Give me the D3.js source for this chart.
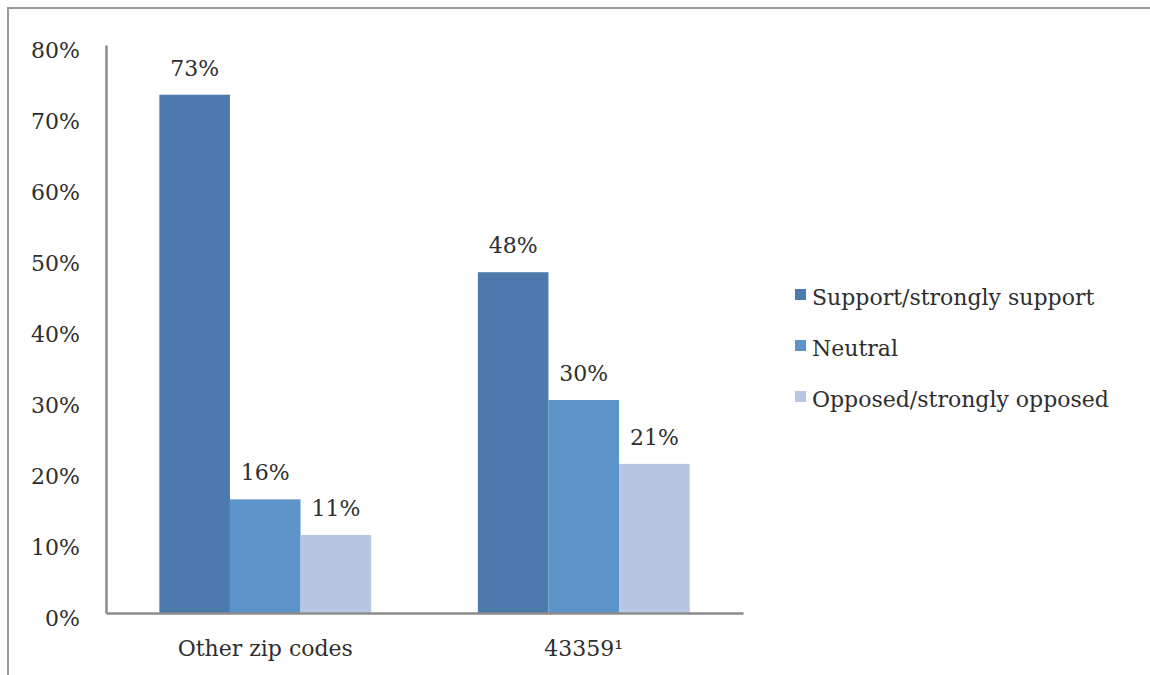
<!DOCTYPE html>
<html>
<head>
<meta charset="utf-8">
<script src="https://cdn.jsdelivr.net/npm/d3@7"></script>
<style>
  body { margin: 0; background: #fff; }
  text { font-family: "DejaVu Serif", "Liberation Serif", serif; fill: #2e2e2e; }
</style>
</head>
<body>
<div id="chart-area"></div>
<script>
const categories = ["Other zip codes", "43359\u00B9"];
const seriesNames = ["Support/strongly support", "Neutral", "Opposed/strongly opposed"];
const support = [73, 48];
const neutral = [16, 30];
const opposed = [11, 21];
const yTicks = [0, 10, 20, 30, 40, 50, 60, 70, 80];

const colors = ["#4d7aad", "#5c94c9", "#b7c6e1"];
const W = 1150, H = 675;
const FONT = "DejaVu Serif";
const FS = "22px";

const svg = d3.select("#chart-area").append("svg").attr("width", W).attr("height", H);

// frame (only top and left edges visible in the original crop)
svg.append("path").attr("d", `M8,${H} L8,8 L${W},8`)
    .attr("fill", "none").attr("stroke", "#9a9a9a").attr("stroke-width", 2);

const plot = { left: 106, right: 743, top: 45, bottom: 613 };

const x0 = d3.scaleBand().domain(categories).range([plot.left, plot.right])
    .paddingInner(0.335).paddingOuter(0.1675);
const x1 = d3.scaleBand().domain(seriesNames).range([0, x0.bandwidth()]);
const y = d3.scaleLinear().domain([0, 80]).range([plot.bottom, plot.top]);

const rows = categories.map((c, i) => ({ cat: c, values: [support[i], neutral[i], opposed[i]] }));

// y axis
const yAxis = svg.append("g").attr("transform", `translate(${plot.left},0)`)
    .call(d3.axisLeft(y).tickValues(yTicks).tickSize(0).tickPadding(26).tickFormat(d => d + "%"));
yAxis.select(".domain").attr("stroke", "#8c8c8c").attr("stroke-width", 2.5);
yAxis.selectAll("text").attr("font-size", FS).attr("dy", "0.55em")
    .style("font-family", FONT).attr("fill", "#2e2e2e");

// bars
const groups = svg.selectAll(".grp").data(rows).enter().append("g")
    .attr("transform", d => `translate(${x0(d.cat)},0)`);

groups.selectAll("rect").data(d => d.values.map((v, i) => ({ name: seriesNames[i], v, i })))
    .enter().append("rect")
    .attr("x", d => x1(d.name))
    .attr("y", d => y(d.v))
    .attr("width", x1.bandwidth())
    .attr("height", d => y(0) - y(d.v))
    .attr("fill", d => colors[d.i]);

groups.selectAll(".val").data(d => d.values.map((v, i) => ({ name: seriesNames[i], v, i })))
    .enter().append("text")
    .attr("x", d => x1(d.name) + x1.bandwidth() / 2)
    .attr("y", d => y(d.v) - 19)
    .attr("text-anchor", "middle")
    .attr("font-size", FS)
    .text(d => d.v + "%");

// x axis
const xAxis = svg.append("g").attr("transform", `translate(0,${plot.bottom})`)
    .call(d3.axisBottom(x0).tickSize(0).tickPadding(0));
xAxis.select(".domain").attr("stroke", "#8c8c8c").attr("stroke-width", 2.5);
xAxis.selectAll("text").attr("font-size", FS).attr("y", 43).attr("dy", 0)
    .style("font-family", FONT).attr("fill", "#2e2e2e");

// legend
const legend = svg.append("g").attr("transform", "translate(795,0)");
seriesNames.forEach((name, i) => {
    const by = 305 + i * 51;
    legend.append("rect").attr("x", 0).attr("y", by - 16).attr("width", 11).attr("height", 11)
        .attr("fill", colors[i]);
    legend.append("text").attr("x", 17).attr("y", by).attr("font-size", FS).text(name);
});
</script>
</body>
</html>
